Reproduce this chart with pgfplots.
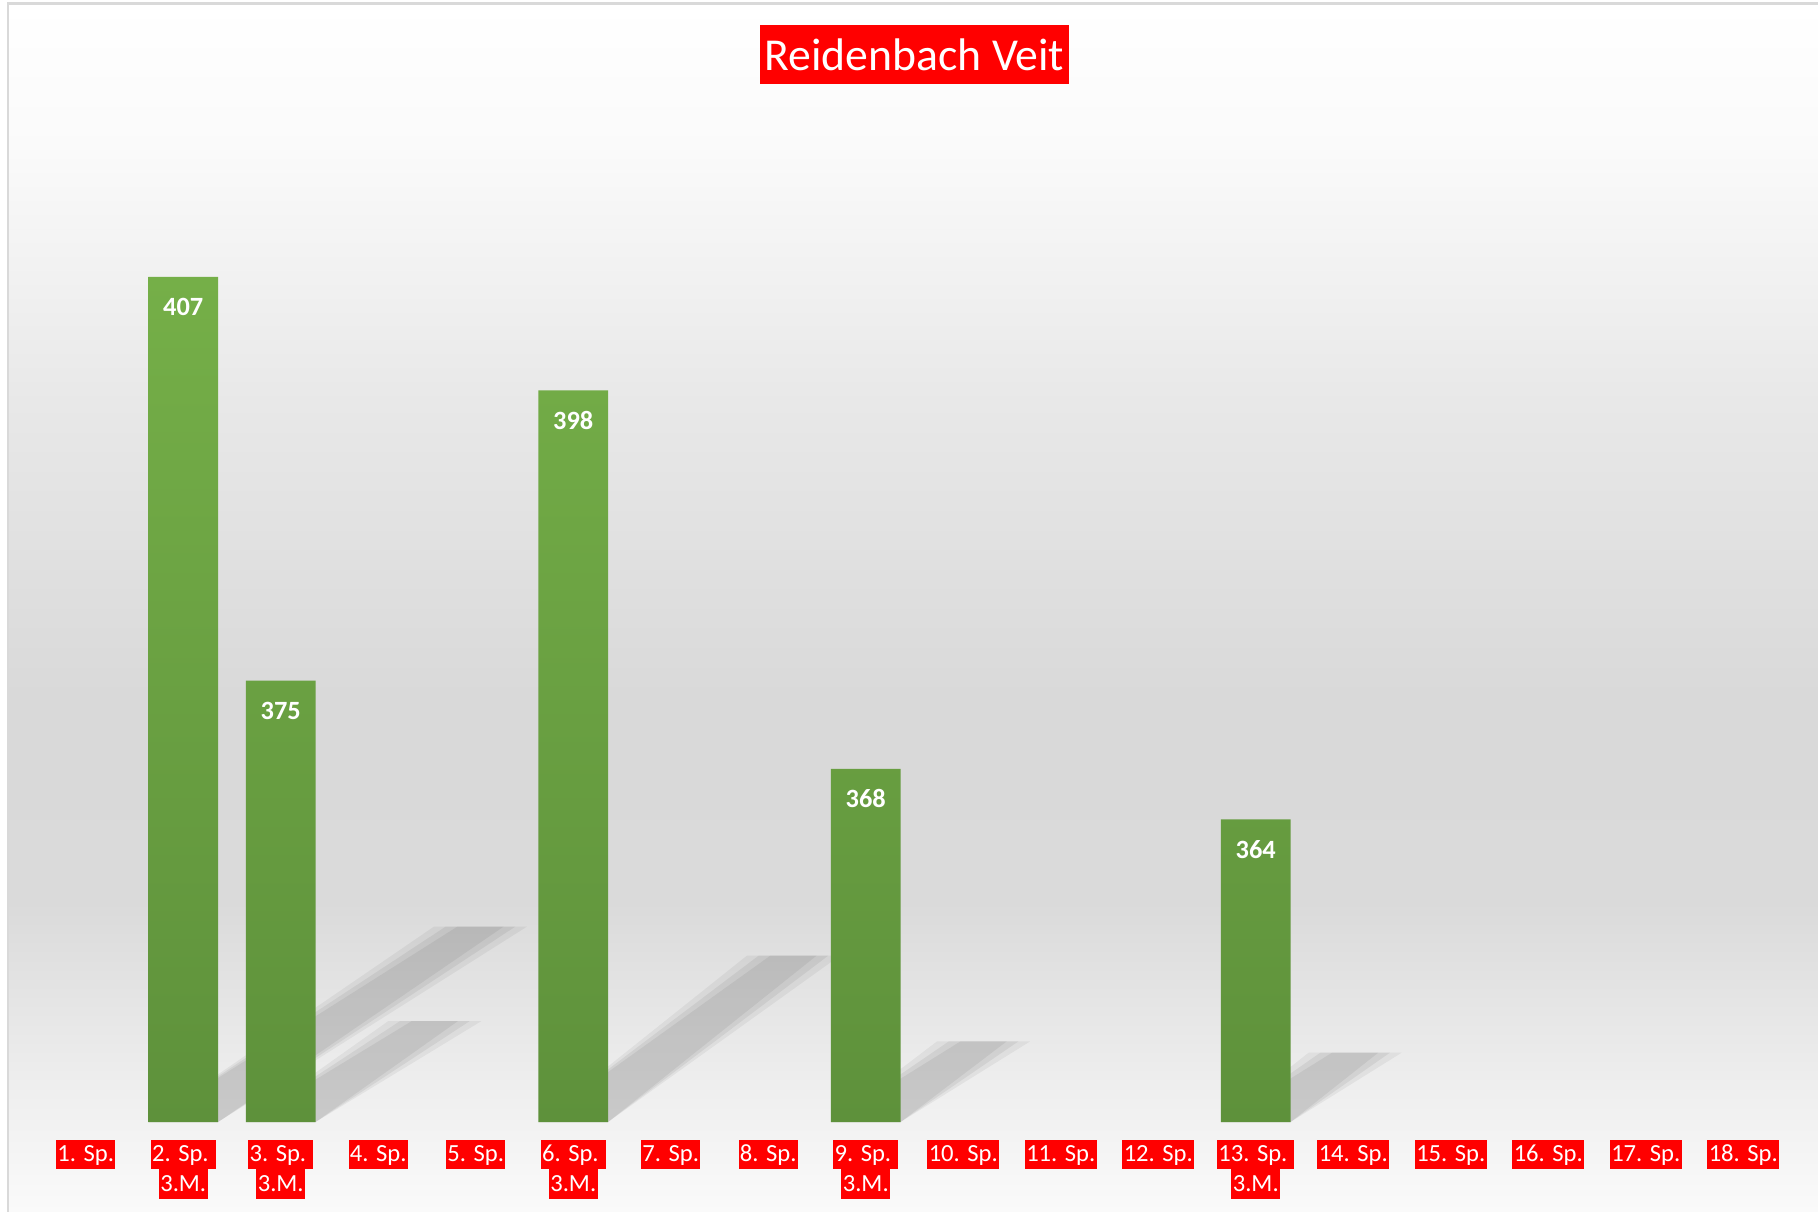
\documentclass[border=0pt]{standalone}
\usepackage{fontspec}
\setmainfont{Carlito}
\usepackage{pgfplots}
\pgfplotsset{compat=1.18}
\definecolor{barTop}{HTML}{75AF48}
\definecolor{barBot}{HTML}{5E913B}
\definecolor{frameGray}{HTML}{D9D9D9}
\definecolor{lblRed}{HTML}{FF0000}
\pgfdeclareverticalshading{chartbg}{100bp}{%
  color(0bp)=(black!2); color(25bp)=(black!2); color(29.6bp)=(black!6);
  color(37.8bp)=(black!14.5); color(46.1bp)=(black!15); color(58.5bp)=(black!9);
  color(68.8bp)=(black!2); color(75bp)=(white); color(100bp)=(white)}
\setlength{\fboxsep}{0pt}
\newcommand{\lb}[1]{\colorbox{lblRed}{\rule[-2.1pt]{0pt}{8.4pt}\hspace{0.4pt}#1\hspace{0.4pt}}}
% soft shadow: left base, right base, top y, top shift
\newcommand{\softshadow}[4]{%
  \foreach \d/\o in {0.12/0.05, 0.0/0.06, -0.12/0.06}{%
    \edef\tmp{\noexpand\addplot[draw=none, fill=black, fill opacity=\o] coordinates
      {(#1,340) (#2,340) (#2+#4+\d,#3) (#1+#4-\d,#3)} -- cycle;}\tmp}}

\begin{document}
\begin{tikzpicture}
\useasboundingbox (0,0) rectangle (18.18,12.11);
\shade[shading=chartbg] (0.08,0) rectangle (18.18,12.075);
\draw[frameGray, line width=0.8pt] (0.08,-0.2) -- (0.08,12.075) -- (18.4,12.075);

\node[fill=lblRed, text=white, inner xsep=1.2pt, inner ysep=3.9pt,
  font=\fontsize{13}{15.6}\selectfont]
  at (9.145,11.565) {Reidenbach Veit};

\begin{axis}[
  at={(0.37cm,0.89cm)}, anchor=south west,
  scale only axis,
  width=17.55cm, height=10.09cm,
  xmin=0.5, xmax=18.5,
  ymin=340, ymax=420,
  axis line style={draw=none},
  major tick length=0pt,
  ytick=\empty,
  xtick={1,...,18},
  xticklabels={\lb{1. Sp.}, {\lb{2. Sp.\ }\\\lb{3.M.}}, {\lb{3. Sp.\ }\\\lb{3.M.}},
    \lb{4. Sp.}, \lb{5. Sp.}, {\lb{6. Sp.\ }\\\lb{3.M.}}, \lb{7. Sp.}, \lb{8. Sp.},
    {\lb{9. Sp.\ }\\\lb{3.M.}}, \lb{10. Sp.}, \lb{11. Sp.}, \lb{12. Sp.},
    {\lb{13. Sp.\ }\\\lb{3.M.}}, \lb{14. Sp.}, \lb{15. Sp.}, \lb{16. Sp.},
    \lb{17. Sp.}, \lb{18. Sp.}},
  xticklabel style={font=\fontsize{7}{8.4}\selectfont, text=white, align=center,
    anchor=north, inner sep=0pt, yshift=-0.168cm},
  /pgf/number format/assume math mode=true,
]
% soft shadows behind the bars
\softshadow{1.643}{2.357}{355.5}{3.05}
\softshadow{2.643}{3.357}{348}{1.58}
\softshadow{5.643}{6.357}{353.2}{2.26}
\softshadow{8.643}{9.357}{346.4}{1.21}
\softshadow{12.643}{13.357}{345.5}{1.02}

\addplot[ybar, bar width=0.696cm, draw=none, top color=barTop, bottom color=barBot,
  nodes near coords,
  nodes near coords style={font=\fontsize{7.5}{9}\selectfont\bfseries, text=white,
    anchor=center, yshift=-0.3cm}]
  coordinates {(2,407) (3,375) (6,398) (9,368) (13,364)};
\end{axis}
\end{tikzpicture}
\end{document}
